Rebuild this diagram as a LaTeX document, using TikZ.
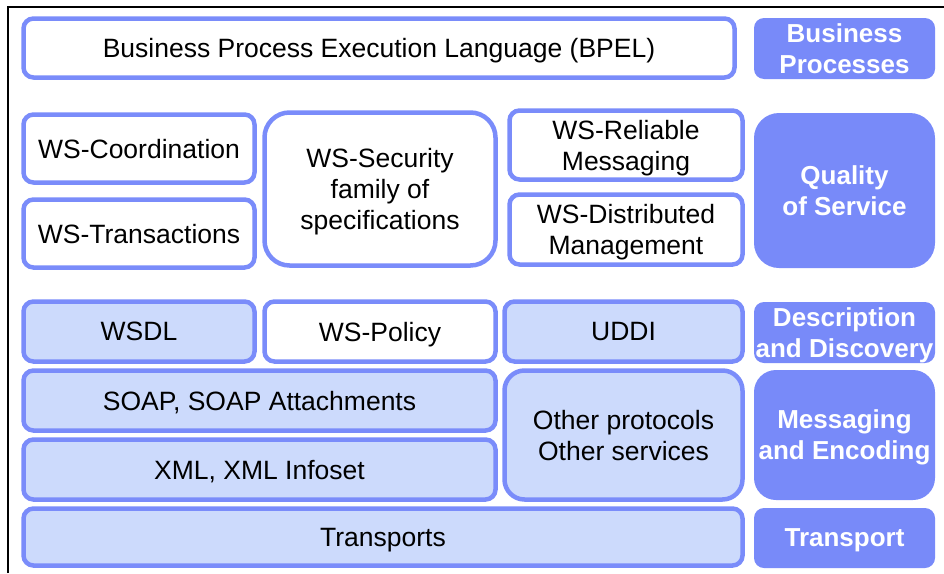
\documentclass[tikz,border=0pt]{standalone}
\usepackage{fontspec}
\setmainfont{Liberation Sans}
\definecolor{wsline}{RGB}{122,140,250}
\definecolor{wsfill}{RGB}{204,218,252}
\definecolor{wslabel}{RGB}{120,138,249}
\tikzset{
  wsbox/.style={draw=wsline, line width=4.5pt, rounded corners=10pt, fill=white,
    inner sep=0pt, align=center, text depth=0pt, font=\fontsize{26.5}{31}\selectfont},
  wslight/.style={wsbox, fill=wsfill},
  wslayer/.style={fill=wslabel, draw=none, rounded corners=10pt, inner sep=0pt,
    align=center, text depth=0pt, text=white, font=\fontsize{26}{31}\selectfont\bfseries},
}
\begin{document}
\begin{tikzpicture}[x=1pt, y=-1pt]
\useasboundingbox (0,0) rectangle (944,573);
\draw[line width=1.5pt] (8,573) -- (8,7) -- (944,7); % frame
\node[wsbox, minimum width=711, minimum height=59] (bpel) at (379,48) {Business Process Execution Language (BPEL)}; % bpel
\node[wslayer, minimum width=181, minimum height=61] (lbp) at (844.5,48.5) {Business\\Processes}; % lbp
\node[wsbox, minimum width=231, minimum height=68] (coord) at (139,148.5) {WS-Coordination}; % coord
\node[wsbox, minimum width=231, minimum height=68] (trans) at (139,233.5) {WS-Transactions}; % trans
\node[wsbox, rounded corners=25pt, minimum width=231, minimum height=153] (secur) at (380,189) {WS-Security\\family of\\specifications}; % secur
\node[wsbox, minimum width=233, minimum height=69] (relmsg) at (626,145) {WS-Reliable\\Messaging}; % relmsg
\node[wsbox, minimum width=233, minimum height=70] (distmgmt) at (626,229.5) {WS-Distributed\\Management}; % distmgmt
\node[wslayer, rounded corners=25pt, minimum width=181, minimum height=155] (lqos) at (844.5,190.5) {Quality\\of Service}; % lqos
\node[wslight, minimum width=231, minimum height=60] (wsdl) at (139,331.5) {WSDL}; % wsdl
\node[wsbox, minimum width=231, minimum height=60] (policy) at (380,331.5) {WS-Policy}; % policy
\node[wslight, minimum width=238, minimum height=60] (uddi) at (623.5,331.5) {UDDI}; % uddi
\node[wslayer, minimum width=181, minimum height=61] (ldesc) at (844.5,332.5) {Description\\and Discovery}; % ldesc
\node[wslight, minimum width=472, minimum height=60] (soap) at (259.5,400.5) {SOAP, SOAP Attachments}; % soap
\node[wslight, minimum width=472, minimum height=60] (xml) at (259.5,469.5) {XML, XML Infoset}; % xml
\node[wslight, rounded corners=20pt, minimum width=238, minimum height=129] (other) at (623.5,435) {Other protocols\\Other services}; % other
\node[wslayer, rounded corners=22pt, minimum width=181, minimum height=130] (lmsg) at (844.5,435) {Messaging\\and Encoding}; % lmsg
\node[wslight, minimum width=719, minimum height=57] (transp) at (383,537) {Transports}; % transp
\node[wslayer, minimum width=181, minimum height=60] (ltransp) at (844.5,538) {Transport}; % ltransp
\end{tikzpicture}
\end{document}
